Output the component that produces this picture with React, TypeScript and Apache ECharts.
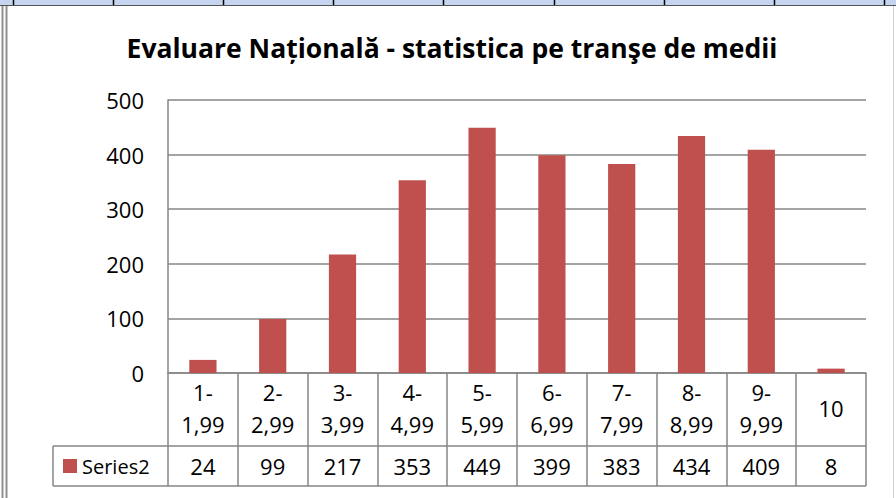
import React, { useEffect, useRef } from "react";
import * as echarts from "echarts";

const categories = ["1-\n1,99", "2-\n2,99", "3-\n3,99", "4-\n4,99", "5-\n5,99", "6-\n6,99", "7-\n7,99", "8-\n8,99", "9-\n9,99", "10"];
const seriesName = "Series2";
const values = [24, 99, 217, 353, 449, 399, 383, 434, 409, 8];
const titleText = "Evaluare Națională - statistica pe tranşe de medii";
const stripDividers = [13, 113, 223, 333, 443, 554, 664, 774, 884];

const FONT = "'Open Sans', 'Noto Sans', sans-serif";
const RED = "#c0504d";
const GRID_GRAY = "#868686";

export default function App() {
  const ref = useRef<HTMLDivElement>(null);
  useEffect(() => {
    if (!ref.current) return;
    const chart = echarts.init(ref.current, null, { renderer: "svg" });
    const plotLeft = 168, plotRight = 866, plotBottom = 373;
    const graphic: any[] = [
      { type: "rect", shape: { x: 0, y: 0, width: 896, height: 5 }, style: { fill: "#c6d4ef" }, z: 10 },
      { type: "line", shape: { x1: 0, y1: 5.5, x2: 896, y2: 5.5 }, style: { stroke: "#555", lineWidth: 1 }, z: 11 },
      ...stripDividers.map((x) => ({ type: "line", shape: { x1: x + 0.5, y1: 0, x2: x + 0.5, y2: 5 }, style: { stroke: "#000", lineWidth: 1.5 }, z: 11 })),
      { type: "line", shape: { x1: 2.5, y1: 6, x2: 2.5, y2: 498 }, style: { stroke: "#8f8f8f", lineWidth: 2 }, z: 10 },
      { type: "line", shape: { x1: 6.5, y1: 6, x2: 6.5, y2: 498 }, style: { stroke: "#8f8f8f", lineWidth: 2 }, z: 10 },
      { type: "line", shape: { x1: 893.5, y1: 6, x2: 893.5, y2: 498 }, style: { stroke: "#d0d0d0", lineWidth: 1 }, z: 10 },
      // data table lines
      { type: "line", shape: { x1: 53, y1: 446, x2: plotRight, y2: 446 }, style: { stroke: GRID_GRAY, lineWidth: 1.5 }, z: 10 },
      { type: "line", shape: { x1: 53, y1: 486, x2: plotRight, y2: 486 }, style: { stroke: GRID_GRAY, lineWidth: 1.5 }, z: 10 },
      { type: "line", shape: { x1: 53, y1: 446, x2: 53, y2: 486 }, style: { stroke: GRID_GRAY, lineWidth: 1.5 }, z: 10 },
      { type: "rect", shape: { x: 63, y: 459, width: 14, height: 14 }, style: { fill: RED }, z: 10 },
      { type: "text", x: 82, y: 466, style: { text: seriesName, fill: "#000", font: `20px ${FONT}`, textVerticalAlign: "middle" }, z: 10 },
    ];
    chart.setOption({
      animation: false,
      backgroundColor: "#fff",
      title: {
        text: titleText,
        left: 447,
        textAlign: "center",
        top: 29,
        textStyle: { fontFamily: FONT, fontSize: 26.5, fontWeight: "bold", color: "#000" },
      },
      grid: { left: plotLeft, right: 896 - plotRight, top: 100, bottom: 498 - plotBottom, containLabel: false },
      xAxis: [
        {
          type: "category",
          data: categories,
          position: "bottom",
          axisLine: { show: true, lineStyle: { color: GRID_GRAY, width: 1.5 } },
          axisTick: { show: true, alignWithLabel: false, interval: 0, length: 113, lineStyle: { color: GRID_GRAY, width: 1.5 } },
          axisLabel: { interval: 0, margin: 35, verticalAlign: "middle", lineHeight: 32, fontFamily: FONT, fontSize: 22, color: "#000" },
        },
        {
          type: "category",
          data: values.map((v) => String(v)),
          position: "bottom",
          offset: 73,
          axisLine: { show: false },
          axisTick: { show: false },
          axisLabel: { interval: 0, margin: 20, verticalAlign: "middle", fontFamily: FONT, fontSize: 22, color: "#000" },
        },
      ],
      yAxis: {
        type: "value",
        min: 0,
        max: 500,
        interval: 100,
        axisLine: { show: true, lineStyle: { color: GRID_GRAY, width: 1.5 } },
        axisTick: { show: false },
        splitLine: { show: true, lineStyle: { color: GRID_GRAY, width: 1.5 } },
        axisLabel: { margin: 24, fontFamily: FONT, fontSize: 22, color: "#000" },
      },
      series: [
        {
          name: seriesName,
          type: "bar",
          data: values,
          barWidth: "39%",
          itemStyle: { color: RED },
        },
      ],
      graphic,
    });
    return () => chart.dispose();
  }, []);
  return <div ref={ref} style={{ width: 896, height: 498, position: "absolute", left: 0, top: 0 }} />;
}
